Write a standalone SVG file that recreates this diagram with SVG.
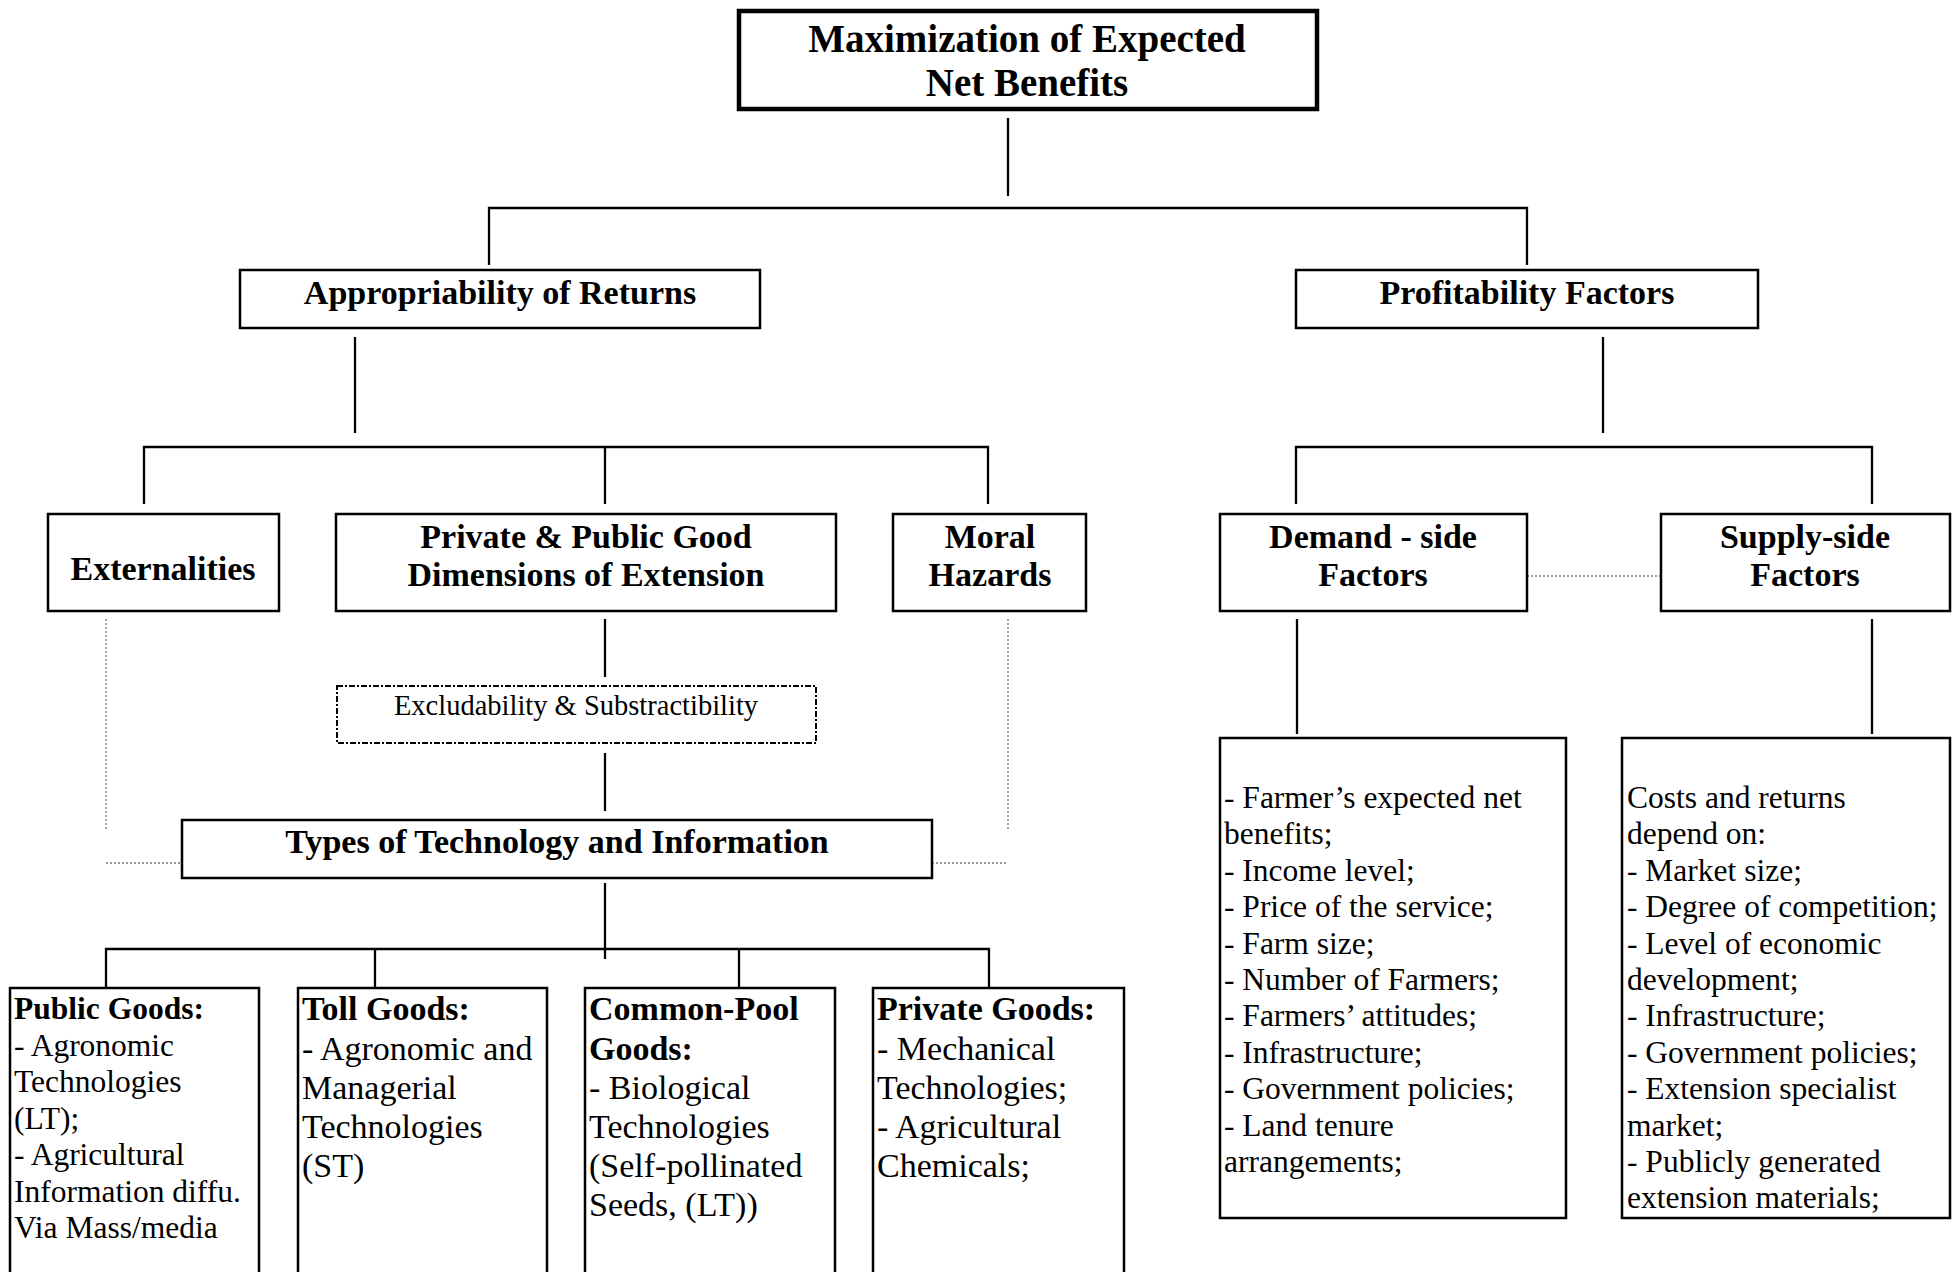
<svg xmlns="http://www.w3.org/2000/svg" width="1958" height="1272" viewBox="0 0 1958 1272">
<style>
  .box { fill: #fff; stroke: #000; stroke-width: 2.5; }
  .top { fill: #fff; stroke: #000; stroke-width: 4.5; }
  .dash { fill: #fff; stroke: #000; stroke-width: 2; stroke-dasharray: 6 2 2 2; }
  .ln { stroke: #000; stroke-width: 2.3; fill: none; }
  .dot { stroke: #777; stroke-width: 1.3; stroke-dasharray: 2 2; fill: none; }
  text { font-family: "Liberation Serif", "Times New Roman", serif; fill: #000; }
  .h { font-weight: bold; font-size: 34px; text-anchor: middle; }
  .t { font-weight: bold; font-size: 39px; text-anchor: middle; }
  .l1 { font-size: 31.5px; }
  .l2 { font-size: 34px; }
  .r { font-size: 31.5px; }
  .b { font-weight: bold; }
</style>
<rect width="1958" height="1272" fill="#fff"/>
<g id="connectors">
  <path class="ln" d="M1008 118 V196"/>
  <path class="ln" d="M489 265 V208 H1527 V265"/>
  <path class="ln" d="M355 337 V433"/>
  <path class="ln" d="M144 504 V447 H988 V504 M605 447 V504"/>
  <path class="ln" d="M1603 337 V433"/>
  <path class="ln" d="M1296 504 V447 H1872 V504"/>
  <path class="ln" d="M605 619 V677"/>
  <path class="ln" d="M605 753 V811"/>
  <path class="ln" d="M605 883 V959"/>
  <path class="ln" d="M106 987 V949 H989 V987 M375 949 V987 M739 949 V987"/>
  <path class="ln" d="M1297 619 V734"/>
  <path class="ln" d="M1872 619 V734"/>
  <path class="dot" d="M106 619 V830 M106 863 H182"/>
  <path class="dot" d="M1008 619 V830 M932 863 H1008"/>
  <path class="dot" d="M1527 576 H1660"/>
</g>
<g id="n-top">
  <rect class="top" x="739" y="11" width="578" height="98"/>
  <text class="t" x="1027" y="52">Maximization of Expected</text>
  <text class="t" x="1027" y="96">Net Benefits</text>
</g>
<g id="n-appropriability">
  <rect class="box" x="240" y="270" width="520" height="58"/>
  <text class="h" x="500" y="304">Appropriability of Returns</text>
</g>
<g id="n-profitability">
  <rect class="box" x="1296" y="270" width="462" height="58"/>
  <text class="h" x="1527" y="304">Profitability Factors</text>
</g>
<g id="n-externalities">
  <rect class="box" x="48" y="514" width="231" height="97"/>
  <text class="h" x="163" y="580">Externalities</text>
</g>
<g id="n-private-public">
  <rect class="box" x="336" y="514" width="500" height="97"/>
  <text class="h" x="586" y="548">Private &amp; Public Good</text>
  <text class="h" x="586" y="586">Dimensions of Extension</text>
</g>
<g id="n-moral">
  <rect class="box" x="893" y="514" width="193" height="97"/>
  <text class="h" x="990" y="548">Moral</text>
  <text class="h" x="990" y="586">Hazards</text>
</g>
<g id="n-demand">
  <rect class="box" x="1220" y="514" width="307" height="97"/>
  <text class="h" x="1373" y="548">Demand - side</text>
  <text class="h" x="1373" y="586">Factors</text>
</g>
<g id="n-supply">
  <rect class="box" x="1661" y="514" width="289" height="97"/>
  <text class="h" x="1805" y="548">Supply-side</text>
  <text class="h" x="1805" y="586">Factors</text>
</g>
<g id="n-excludability">
  <rect class="dash" x="337" y="686" width="479" height="57"/>
  <text x="576" y="715" font-size="28.5" text-anchor="middle">Excludability &amp; Substractibility</text>
</g>
<g id="n-types">
  <rect class="box" x="182" y="820" width="750" height="58"/>
  <text class="h" x="557" y="853">Types of Technology and Information</text>
</g>
<g id="n-public-goods">
  <rect class="box" x="10" y="988" width="249" height="300"/>
  <text class="l1" x="14">
    <tspan class="b" x="14" y="1019">Public Goods:</tspan>
    <tspan x="14" y="1055.5">- Agronomic</tspan>
    <tspan x="14" y="1092">Technologies</tspan>
    <tspan x="14" y="1128.5">(LT);</tspan>
    <tspan x="14" y="1165">- Agricultural</tspan>
    <tspan x="14" y="1201.5">Information diffu.</tspan>
    <tspan x="14" y="1238">Via Mass/media</tspan>
  </text>
</g>
<g id="n-toll-goods">
  <rect class="box" x="298" y="988" width="249" height="300"/>
  <text class="l2">
    <tspan class="b" x="302" y="1020">Toll Goods:</tspan>
    <tspan x="302" y="1060">- Agronomic and</tspan>
    <tspan x="302" y="1099">Managerial</tspan>
    <tspan x="302" y="1138">Technologies</tspan>
    <tspan x="302" y="1177">(ST)</tspan>
  </text>
</g>
<g id="n-common-pool">
  <rect class="box" x="585" y="988" width="250" height="300"/>
  <text class="l2">
    <tspan class="b" x="589" y="1020">Common-Pool</tspan>
    <tspan class="b" x="589" y="1060">Goods:</tspan>
    <tspan x="589" y="1099">- Biological</tspan>
    <tspan x="589" y="1138">Technologies</tspan>
    <tspan x="589" y="1177">(Self-pollinated</tspan>
    <tspan x="589" y="1216">Seeds, (LT))</tspan>
  </text>
</g>
<g id="n-private-goods">
  <rect class="box" x="873" y="988" width="251" height="300"/>
  <text class="l2">
    <tspan class="b" x="877" y="1020">Private Goods:</tspan>
    <tspan x="877" y="1060">- Mechanical</tspan>
    <tspan x="877" y="1099">Technologies;</tspan>
    <tspan x="877" y="1138">- Agricultural</tspan>
    <tspan x="877" y="1177">Chemicals;</tspan>
  </text>
</g>
<g id="n-demand-list">
  <rect class="box" x="1220" y="738" width="346" height="480"/>
  <text class="r">
    <tspan x="1224" y="808">- Farmer’s expected net</tspan>
    <tspan x="1224" y="844.4">benefits;</tspan>
    <tspan x="1224" y="880.8">- Income level;</tspan>
    <tspan x="1224" y="917.2">- Price of the service;</tspan>
    <tspan x="1224" y="953.6">- Farm size;</tspan>
    <tspan x="1224" y="990">- Number of Farmers;</tspan>
    <tspan x="1224" y="1026.4">- Farmers’ attitudes;</tspan>
    <tspan x="1224" y="1062.8">- Infrastructure;</tspan>
    <tspan x="1224" y="1099.2">- Government policies;</tspan>
    <tspan x="1224" y="1135.6">- Land tenure</tspan>
    <tspan x="1224" y="1172">arrangements;</tspan>
  </text>
</g>
<g id="n-supply-list">
  <rect class="box" x="1622" y="738" width="328" height="480"/>
  <text class="r">
    <tspan x="1627" y="808">Costs and returns</tspan>
    <tspan x="1627" y="844.4">depend on:</tspan>
    <tspan x="1627" y="880.8">- Market size;</tspan>
    <tspan x="1627" y="917.2">- Degree of competition;</tspan>
    <tspan x="1627" y="953.6">- Level of economic</tspan>
    <tspan x="1627" y="990">development;</tspan>
    <tspan x="1627" y="1026.4">- Infrastructure;</tspan>
    <tspan x="1627" y="1062.8">- Government policies;</tspan>
    <tspan x="1627" y="1099.2">- Extension specialist</tspan>
    <tspan x="1627" y="1135.6">market;</tspan>
    <tspan x="1627" y="1172">- Publicly generated</tspan>
    <tspan x="1627" y="1208.4">extension materials;</tspan>
  </text>
</g>
</svg>
